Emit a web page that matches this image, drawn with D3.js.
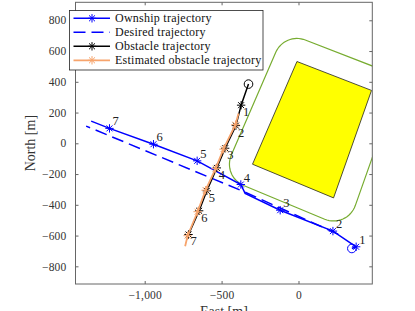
<!DOCTYPE html>
<html>
<head>
<meta charset="utf-8">
<style>
  body { margin: 0; background: #fff; }
  text { font-family: "Liberation Serif", "DejaVu Serif", serif; }
  .tick text { font-size: 11.5px; fill: #333; letter-spacing: 0.2px; }
  .tick line { stroke: #666; }
</style>
</head>
<body>
<div id="chart"></div>
<script src="https://d3js.org/d3.v7.min.js"></script>
<script>
// values, East / North in metres
var ownshipEast  = [347, 375, 224, -119, -347, -375, -659, -943, -1229, -1348];
var ownshipNorth = [-684, -673, -571, -435, -326, -268, -114, -6, 97, 144];
var ownshipMarks = [1, 2, 3, 5, 6, 7, 8];   // indices of the numbered samples

var desiredEast  = [258, -347, -1381];
var desiredNorth = [-591, -318, 112];

var obstacleEast  = [-325, -373, -407, -477, -531, -596, -646, -715];
var obstacleNorth = [385, 248, 115, -32, -160, -309, -439, -593];
var obstacleMarks = [1, 2, 3, 4, 5, 6, 7];

var estimatedEast  = [-390, -410, -488, -539, -604, -656, -721, -737];
var estimatedNorth = [194, 121, -38, -165, -305, -445, -601, -669];
var estimatedMarks = [1, 2, 3, 4, 5, 6];

var islandEast  = [-10, 475, 228, -299];
var islandNorth = [532, 344, -355, -136];
var safetyRadius = 150;

var xTicks = [-1000, -500, 0];
var yTicks = [-800, -600, -400, -200, 0, 200, 400, 600, 800];
var sampleLabels = ["1", "2", "3", "4", "5", "6", "7"];

var legendNames = ["Ownship trajectory", "Desired trajectory", "Obstacle trajectory", "Estimated obstacle trajectory"];

var width = 415, height = 311;
var blue = "#0000ff", orange = "#f7a46c", green = "#77ac30";

var x = d3.scaleLinear().domain([-1450, 480]).range([75.5, 372.3]);
var y = d3.scaleLinear().domain([-915, 917]).range([284, 2.3]);

var svg = d3.select("#chart").append("svg")
    .attr("width", width)
    .attr("height", height);

svg.append("clipPath").attr("id", "plotclip")
  .append("rect")
    .attr("x", x.range()[0]).attr("y", y.range()[1])
    .attr("width", x.range()[1] - x.range()[0])
    .attr("height", y.range()[0] - y.range()[1]);

function pts(es, ns) {
  return es.map(function(e, i) { return [e, ns[i]]; });
}

var line = d3.line()
    .x(function(d) { return x(d[0]); })
    .y(function(d) { return y(d[1]); });

// asterisk marker like matlab '*'
function star(r) {
  var a = r * 0.707;
  return "M" + (-r) + ",0L" + r + ",0M0," + (-r) + "L0," + r +
         "M" + (-a) + "," + (-a) + "L" + a + "," + a +
         "M" + (-a) + "," + a + "L" + a + "," + (-a);
}

var plot = svg.append("g").attr("clip-path", "url(#plotclip)");

// island and its rounded safety margin
var island = pts(islandEast, islandNorth);
plot.append("path")
    .datum(island)
    .attr("d", function(d) { return line(d) + "Z"; })
    .attr("fill", "#ffff00")
    .attr("stroke", "#222")
    .attr("stroke-width", 0.8);

var margin = [];
island.forEach(function(p, i) {
  var prev = island[(i + island.length - 1) % island.length];
  var next = island[(i + 1) % island.length];
  // outward normals of the two edges (polygon is clockwise in E/N)
  var a0 = Math.atan2(p[1] - prev[1], p[0] - prev[0]) + Math.PI / 2;
  var a1 = Math.atan2(next[1] - p[1], next[0] - p[0]) + Math.PI / 2;
  while (a1 > a0) a1 -= 2 * Math.PI;
  for (var k = 0; k <= 16; k++) {
    var a = a0 + (a1 - a0) * k / 16;
    margin.push([p[0] + safetyRadius * Math.cos(a), p[1] + safetyRadius * Math.sin(a)]);
  }
});
plot.append("path")
    .datum(margin)
    .attr("d", function(d) { return line(d) + "Z"; })
    .attr("fill", "none")
    .attr("stroke", green)
    .attr("stroke-width", 1.2);

// desired
plot.append("path")
    .datum(pts(desiredEast, desiredNorth))
    .attr("d", line)
    .attr("fill", "none")
    .attr("stroke", blue)
    .attr("stroke-width", 1.5)
    .attr("stroke-dasharray", "12,6");

// ownship
var own = pts(ownshipEast, ownshipNorth);
plot.append("path")
    .datum(own)
    .attr("d", line)
    .attr("fill", "none")
    .attr("stroke", blue)
    .attr("stroke-width", 1.5);
plot.append("circle")
    .attr("cx", x(own[0][0])).attr("cy", y(own[0][1])).attr("r", 4.3)
    .attr("fill", "none").attr("stroke", blue).attr("stroke-width", 1);

// obstacle
var obs = pts(obstacleEast, obstacleNorth);
plot.append("path")
    .datum(obs)
    .attr("d", line)
    .attr("fill", "none")
    .attr("stroke", "#000")
    .attr("stroke-width", 1.5);
plot.append("circle")
    .attr("cx", x(obs[0][0])).attr("cy", y(obs[0][1])).attr("r", 4.3)
    .attr("fill", "none").attr("stroke", "#000").attr("stroke-width", 1);

plot.selectAll(".obsmark")
    .data(obstacleMarks.map(function(i) { return obs[i]; }))
  .enter().append("path")
    .attr("transform", function(d) { return "translate(" + x(d[0]) + "," + y(d[1]) + ")"; })
    .attr("d", star(4.2))
    .attr("stroke", "#000").attr("stroke-width", 1);

// estimated
var est = pts(estimatedEast, estimatedNorth);
plot.append("path")
    .datum(est)
    .attr("d", line)
    .attr("fill", "none")
    .attr("stroke", orange)
    .attr("stroke-width", 1.8);
plot.selectAll(".estmark")
    .data(estimatedMarks.map(function(i) { return est[i]; }))
  .enter().append("path")
    .attr("transform", function(d) { return "translate(" + x(d[0]) + "," + y(d[1]) + ")"; })
    .attr("d", star(4.2))
    .attr("stroke", orange).attr("stroke-width", 1);

plot.selectAll(".ownmark")
    .data(ownshipMarks.map(function(i) { return own[i]; }))
  .enter().append("path")
    .attr("transform", function(d) { return "translate(" + x(d[0]) + "," + y(d[1]) + ")"; })
    .attr("d", star(4.2))
    .attr("stroke", blue).attr("stroke-width", 1);

// sample numbers
ownshipMarks.forEach(function(idx, i) {
  plot.append("text")
      .attr("x", x(own[idx][0]) + 3).attr("y", y(own[idx][1]) - 3)
      .attr("font-size", 12.5).attr("fill", "#222")
      .text(sampleLabels[i]);
});
obstacleMarks.forEach(function(idx, i) {
  plot.append("text")
      .attr("x", x(obs[idx][0]) + 2).attr("y", y(obs[idx][1]) + 11)
      .attr("font-size", 12.5).attr("fill", "#222")
      .text(sampleLabels[i]);
});

// axes box with inward ticks
var x0 = x.range()[0], x1 = x.range()[1], y0 = y.range()[0], y1 = y.range()[1];

svg.append("g").attr("transform", "translate(0," + y0 + ")")
    .call(d3.axisBottom(x).tickValues(xTicks).tickSizeInner(-3).tickSizeOuter(0).tickPadding(7))
    .call(function(g) { g.select(".domain").remove(); });
svg.append("g").attr("transform", "translate(0," + y1 + ")")
    .call(d3.axisTop(x).tickValues(xTicks).tickSizeInner(-3).tickSizeOuter(0).tickFormat(""))
    .call(function(g) { g.select(".domain").remove(); });
svg.append("g").attr("transform", "translate(" + x0 + ",0)")
    .call(d3.axisLeft(y).tickValues(yTicks).tickSizeInner(-3).tickSizeOuter(0).tickPadding(9))
    .call(function(g) { g.select(".domain").remove(); });
svg.append("g").attr("transform", "translate(" + x1 + ",0)")
    .call(d3.axisRight(y).tickValues(yTicks).tickSizeInner(-3).tickSizeOuter(0).tickFormat(""))
    .call(function(g) { g.select(".domain").remove(); });

svg.selectAll(".tick text").attr("font-family", null);

svg.append("rect")
    .attr("x", x0).attr("y", y1)
    .attr("width", x1 - x0).attr("height", y0 - y1)
    .attr("fill", "none").attr("stroke", "#666").attr("stroke-width", 1);

svg.append("text")
    .attr("transform", "translate(35," + ((y0 + y1) / 2) + ") rotate(-90)")
    .attr("text-anchor", "middle")
    .attr("font-size", 14).attr("fill", "#333")
    .text("North [m]");
svg.append("text")
    .attr("x", (x0 + x1) / 2).attr("y", 316)
    .attr("text-anchor", "middle")
    .attr("font-size", 14).attr("fill", "#333")
    .text("East [m]");

// legend
var legend = svg.append("g");
legend.append("rect")
    .attr("x", 69.5).attr("y", 10.5).attr("width", 193.5).attr("height", 59.5)
    .attr("fill", "#fff").attr("stroke", "#222").attr("stroke-width", 0.8);

var legendStyle = [
  { color: blue, dash: null, mark: true, w: 1.5 },
  { color: blue, dash: "12,6", mark: false, w: 1.5 },
  { color: "#000", dash: null, mark: true, w: 1.5 },
  { color: orange, dash: null, mark: true, w: 1.8 }
];
legendNames.forEach(function(name, i) {
  var cy = 18.3 + i * 14;
  var s = legendStyle[i];
  legend.append("line")
      .attr("x1", 73.5).attr("x2", 110).attr("y1", cy).attr("y2", cy)
      .attr("stroke", s.color).attr("stroke-width", s.w)
      .attr("stroke-dasharray", s.dash);
  if (s.mark) {
    legend.append("path")
        .attr("transform", "translate(92," + cy + ")")
        .attr("d", star(4.2))
        .attr("stroke", s.color).attr("stroke-width", 1);
  }
  legend.append("text")
      .attr("x", 115).attr("y", cy + 4)
      .attr("font-size", 12).attr("letter-spacing", 0.25).attr("fill", "#111")
      .text(name);
});
</script>
</body>
</html>
